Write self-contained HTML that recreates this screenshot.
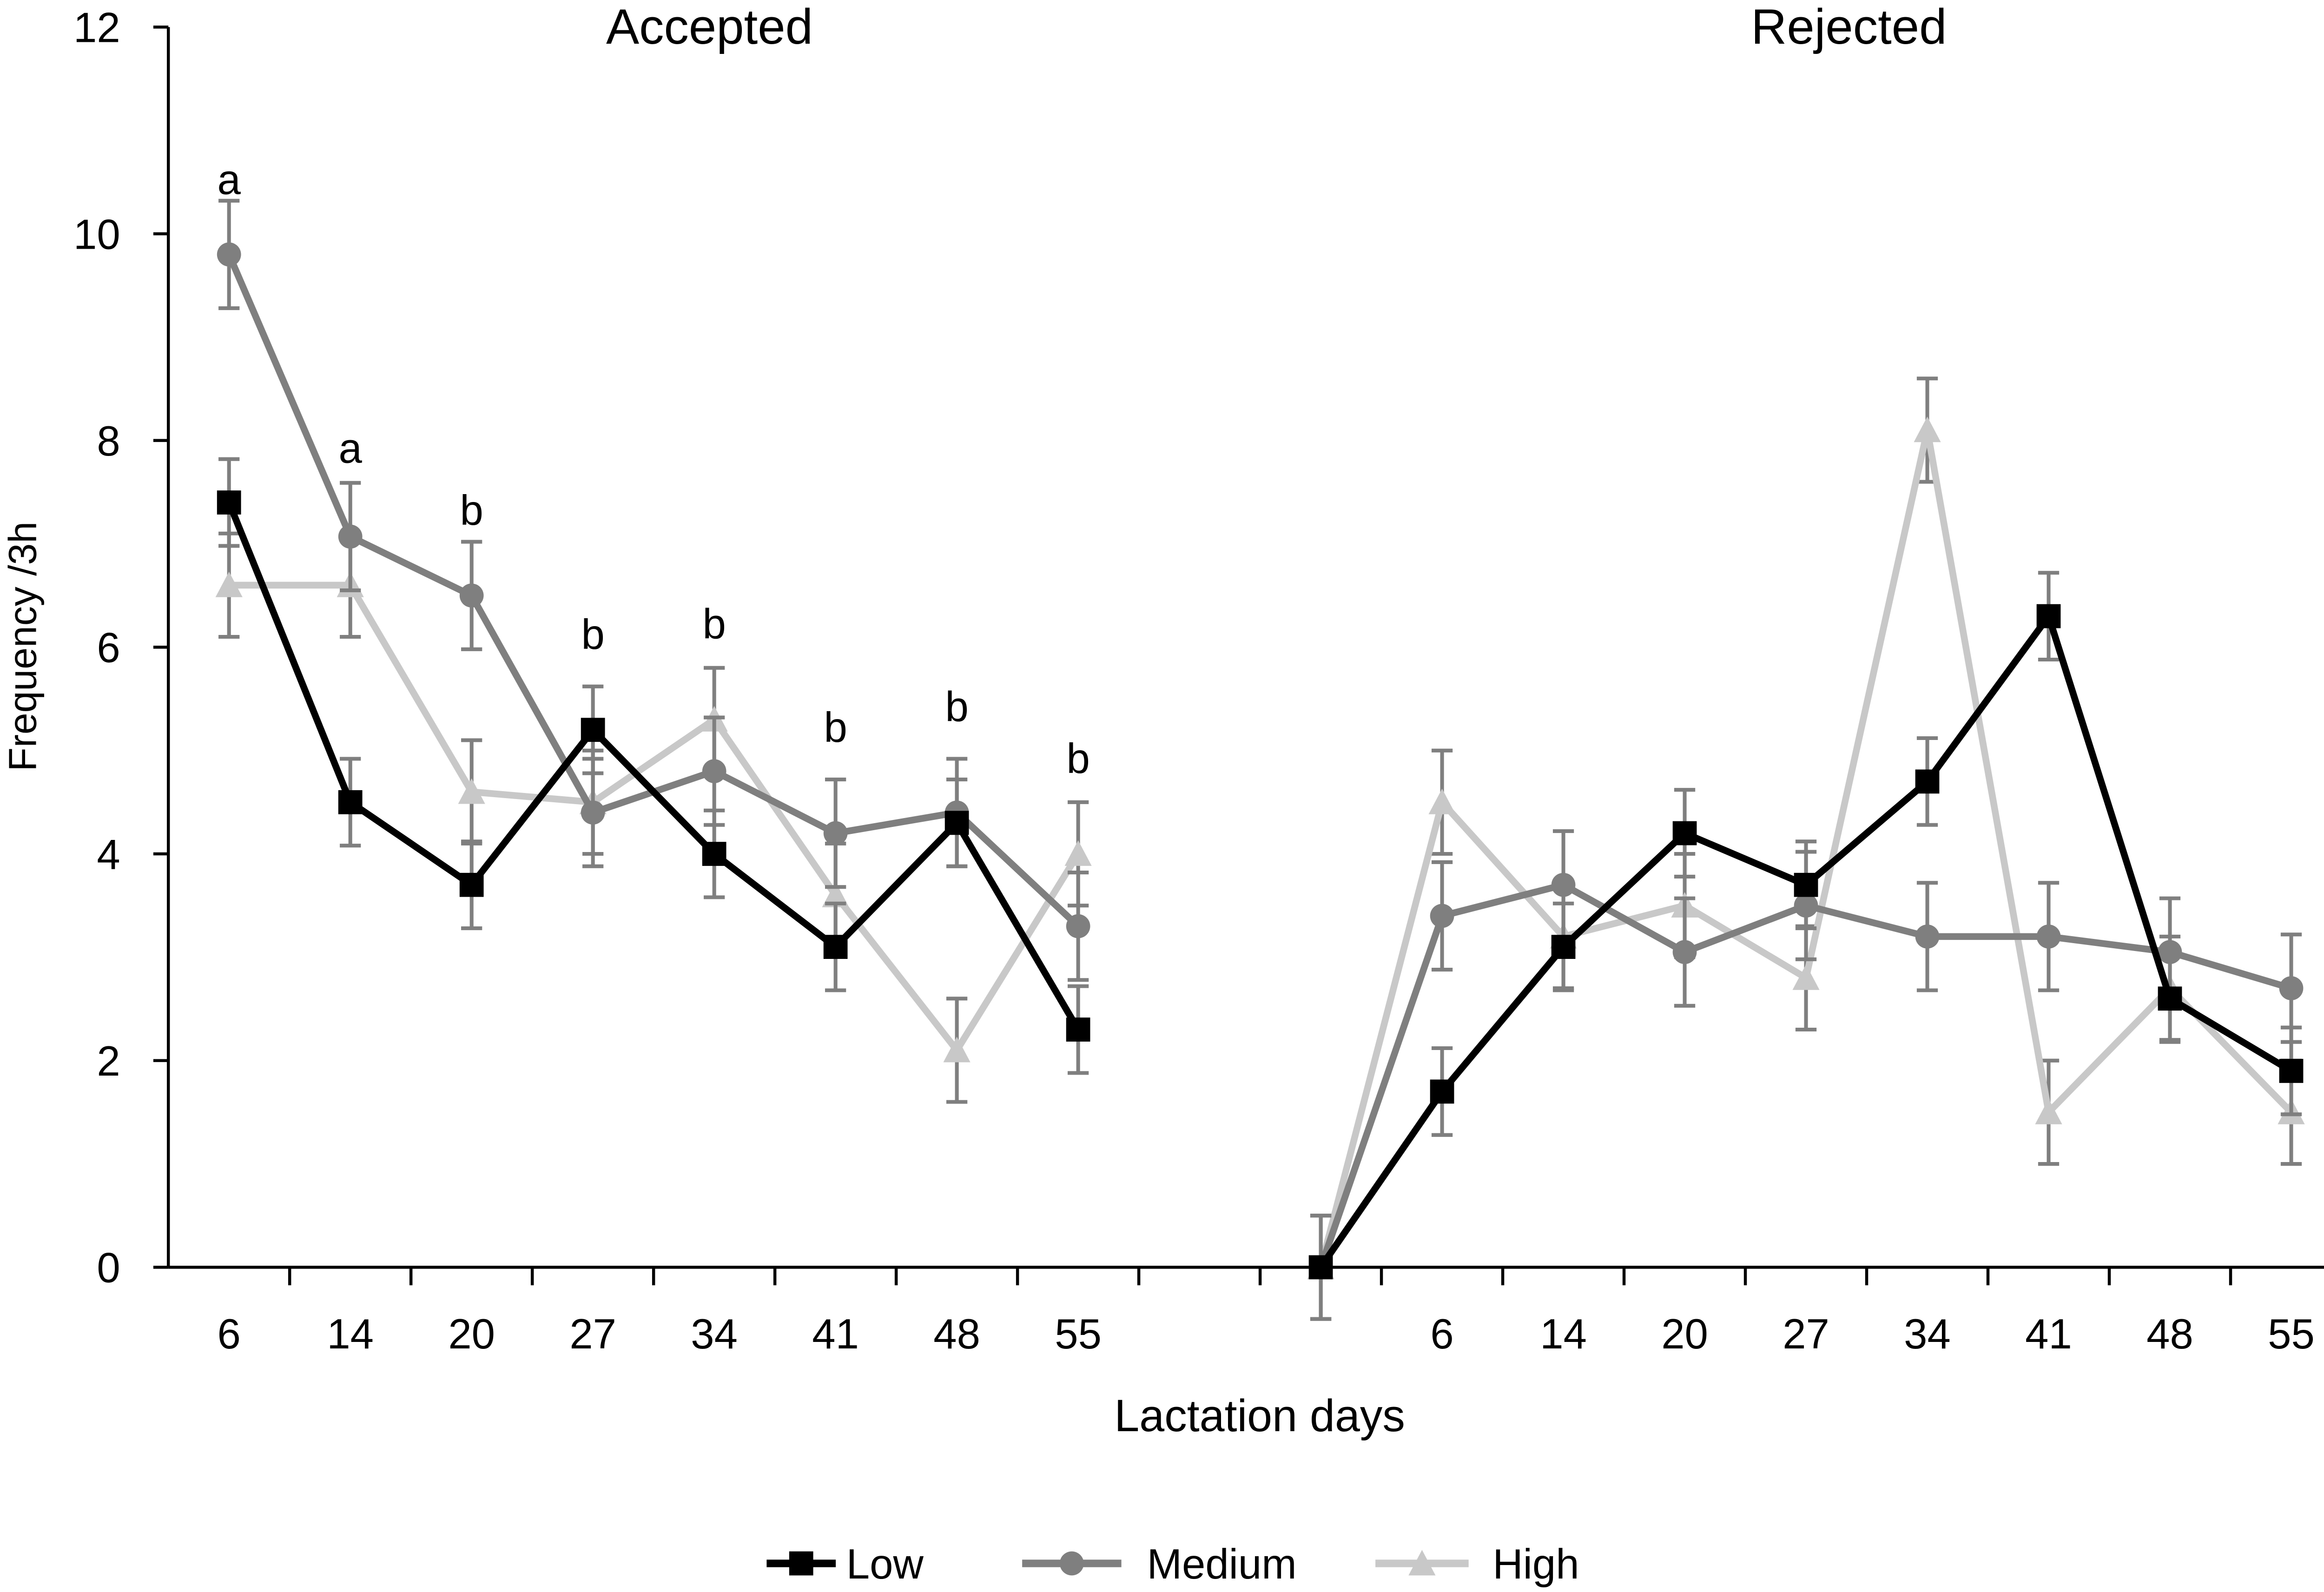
<!DOCTYPE html>
<html><head><meta charset="utf-8"><style>
html,body{margin:0;padding:0;background:#fff;}
svg{display:block;font-family:"Liberation Sans",sans-serif;}
</style></head><body>
<svg id="chart" width="5071" height="3425" viewBox="0 0 1568 1059" xmlns="http://www.w3.org/2000/svg">
<g id="axes"></g>
<g id="series"></g>
<text x="472" y="29" font-size="33" text-anchor="middle">Accepted</text>
<text x="1230" y="29" font-size="33" text-anchor="middle">Rejected</text>
<text x="838" y="952" font-size="30" text-anchor="middle">Lactation days</text>
<text transform="translate(24,430) rotate(-90)" font-size="26" text-anchor="middle">Frequency /3h</text>
<g>
<g>
<line x1="510" y1="1040" x2="556" y2="1040" stroke="#000" stroke-width="5"/>
<rect x="525" y="1032" width="16" height="16" fill="#000"/>
<text x="563" y="1050" font-size="28">Low</text></g>
<g>
<line x1="680" y1="1040" x2="746" y2="1040" stroke="#7f7f7f" stroke-width="5"/>
<circle cx="713" cy="1040" r="8" fill="#7f7f7f"/>
<text x="763" y="1050" font-size="28">Medium</text></g>
<g>
<line x1="915" y1="1040" x2="977" y2="1040" stroke="#c8c8c8" stroke-width="5"/>
<polygon points="946,1031 955,1048 937,1048" fill="#c8c8c8"/>
<text x="993" y="1050" font-size="28">High</text></g>
</g>
</svg>
<script>
const categories=["6","14","20","27","34","41","48","55","","","6","14","20","27","34","41","48","55"];
const yTicks=[0,2,4,6,8,10,12];
const lowAccepted=[7.4,4.5,3.7,5.2,4.0,3.1,4.3,2.3];
const lowRejected=[0,1.7,3.1,4.2,3.7,4.7,6.3,2.6,1.9];
const medAccepted=[9.8,7.07,6.5,4.4,4.8,4.2,4.4,3.3];
const medRejected=[0,3.4,3.7,3.05,3.5,3.2,3.2,3.05,2.7];
const highAccepted=[6.6,6.6,4.6,4.5,5.3,3.6,2.1,4.0];
const highRejected=[0,4.5,3.2,3.5,2.8,8.1,1.5,2.7,1.5];
const lowErr=[0.42,0.42,0.42,0.42,0.42,0.42,0.42,0.42];
const lowErrR=[0.5,0.42,0.42,0.42,0.42,0.42,0.42,0.42,0.42];
const medErr=[0.52,0.52,0.52,0.52,0.52,0.52,0.52,0.52];
const medErrR=[0.5,0.52,0.52,0.52,0.52,0.52,0.52,0.52,0.52];
const highErr=[0.5,0.5,0.5,0.5,0.5,0.5,0.5,0.5];
const highErrR=[0.5,0.5,0.5,0.5,0.5,0.5,0.5,0.5,0.5];
const sigLetters=["a","a","b","b","b","b","b","b"];
const sigValues=[10.5,7.9,7.3,6.1,6.2,5.2,5.4,4.9];

const NS="http://www.w3.org/2000/svg";
const X0=112,SLOT=80.7,Y0=843,YPU=68.75;
const xS=i=>X0+SLOT*(i+0.5);
const yS=v=>Y0-v*YPU;
function mk(tag,attrs,parent){const e=document.createElementNS(NS,tag);for(const k in attrs)e.setAttribute(k,attrs[k]);parent.appendChild(e);return e;}
const axes=document.getElementById('axes'),ser=document.getElementById('series');
let e=mk('line',{x1:X0,y1:yS(12),x2:X0,y2:Y0,stroke:'#000','stroke-width':2},axes);


e=mk('line',{x1:X0,y1:Y0,x2:X0+SLOT*categories.length,y2:Y0,stroke:'#000','stroke-width':2},axes);


yTicks.forEach(t=>{
 mk('line',{x1:X0-10,y1:yS(t),x2:X0,y2:yS(t),stroke:'#000','stroke-width':2},axes);
 const tx=mk('text',{x:X0-32,y:yS(t)+10,'font-size':28,'text-anchor':'end'},axes);tx.textContent=t;
 
 
});
categories.forEach((c,i)=>{
 mk('line',{x1:X0+SLOT*(i+1),y1:Y0,x2:X0+SLOT*(i+1),y2:Y0+12,stroke:'#000','stroke-width':2},axes);
 if(c){const tx=mk('text',{x:xS(i),y:Y0+54,'font-size':28,'text-anchor':'middle'},axes);tx.textContent=c;
 
 }
});
function series(name,acc,accE,rej,rejE,color,marker){
 const g=mk('g',{},ser);
 
 
 const pts=[];acc.forEach((v,i)=>pts.push([i,v,accE[i]]));rej.forEach((v,i)=>pts.push([i+9,v,rejE[i]]));
 pts.forEach(p=>{const x=xS(p[0]);
  mk('line',{x1:x,y1:yS(p[1]-p[2]),x2:x,y2:yS(p[1]+p[2]),stroke:'#7f7f7f','stroke-width':2.5},g);
  [p[1]-p[2],p[1]+p[2]].forEach(v=>mk('line',{x1:x-7,y1:yS(v),x2:x+7,y2:yS(v),stroke:'#7f7f7f','stroke-width':2.5},g));
 });
 const path=(arr,off)=>arr.map((v,i)=>xS(i+off)+','+yS(v)).join(' ');
 mk('polyline',{points:path(acc,0),fill:'none',stroke:color,'stroke-width':4.5,'stroke-linejoin':'round'},g);
 mk('polyline',{points:path(rej,9),fill:'none',stroke:color,'stroke-width':4.5,'stroke-linejoin':'round'},g);
 pts.forEach(p=>{const x=xS(p[0]),y=yS(p[1]);let m;
  if(marker==='sq')m=mk('rect',{x:x-8,y:y-8,width:16,height:16,fill:color},g);
  else if(marker==='c')m=mk('circle',{cx:x,cy:y,r:8,fill:color},g);
  else m=mk('polygon',{points:`${x},${y-9} ${x+9},${y+8} ${x-9},${y+8}`,fill:color},g);
  
  
 });
}
series('high',highAccepted,highErr,highRejected,highErrR,'#c8c8c8','tri');
series('medium',medAccepted,medErr,medRejected,medErrR,'#7f7f7f','c');
series('low',lowAccepted,lowErr,lowRejected,lowErrR,'#000','sq');
sigLetters.forEach((l,i)=>{const t=mk('text',{x:xS(i),y:yS(sigValues[i])+8,'font-size':28,'text-anchor':'middle'},ser);t.textContent=l;
 
 });
</script>
</body></html>
